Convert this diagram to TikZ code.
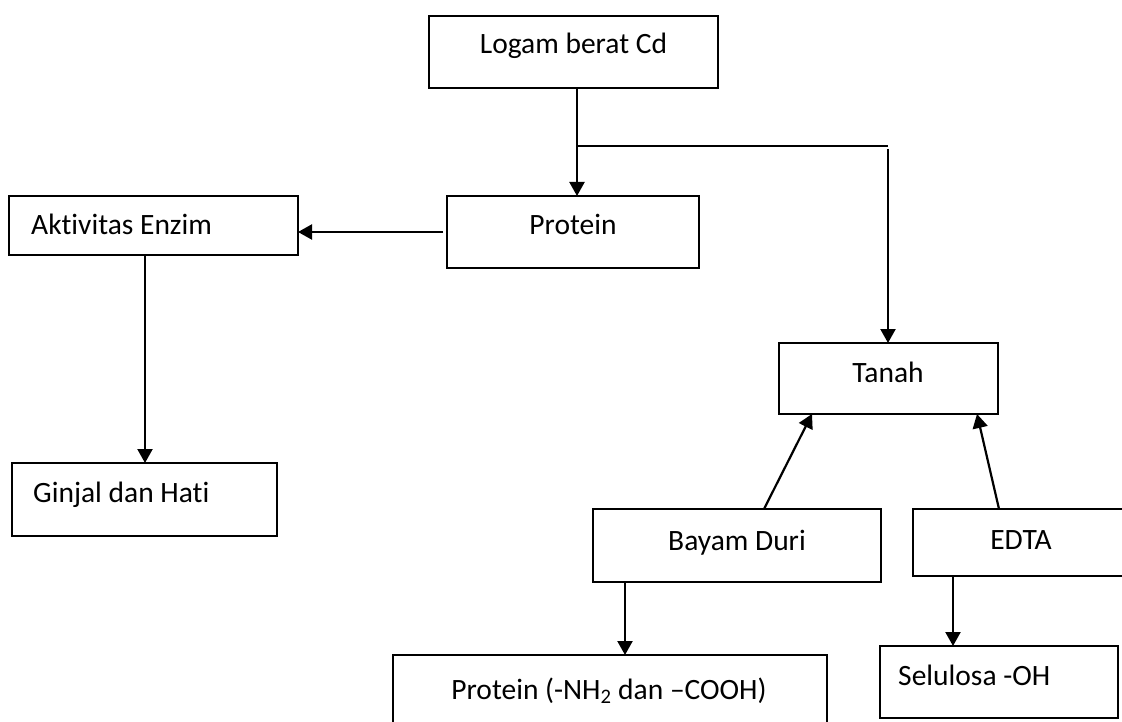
\documentclass[tikz,border=0pt]{standalone}
\usepackage{fontspec}
\setmainfont{Carlito}[Ligatures={NoCommon}]
\usetikzlibrary{arrows.meta}
\begin{document}
\begin{tikzpicture}[x=1pt,y=-1pt,
  box/.style={draw, line width=2pt, inner sep=0pt, outer sep=0pt, anchor=north west},
  lbl/.style={inner sep=0pt, anchor=base, font=\fontsize{29.5}{35}\selectfont},
  lblw/.style={lbl, anchor=base west},
  conn/.style={line width=2.2pt},
  arr/.style={conn, -{Triangle[length=14pt,width=15pt]}}]
\useasboundingbox (0,0) rectangle (1122,722);
\clip (0,0) rectangle (1122,722);
% boxes
\node[box, minimum width=289pt, minimum height=72pt] (logam) at (429,16) {};
\node[box, minimum width=252pt, minimum height=72pt] (prot) at (447,196) {};
\node[box, minimum width=289pt, minimum height=59pt] (aktiv) at (9,196) {};
\node[box, minimum width=265pt, minimum height=73pt] (ginjal) at (12,463) {};
\node[box, minimum width=219pt, minimum height=71pt] (tanah) at (779,343) {};
\node[box, minimum width=288pt, minimum height=73pt] (bayam) at (593,509) {};
\node[box, minimum width=230pt, minimum height=67pt] (edta) at (913,509) {};
\node[box, minimum width=238pt, minimum height=72pt] (selul) at (880,646) {};
\node[box, minimum width=434pt, minimum height=90pt] (prot2) at (393,655) {};
% texts
\node[lbl] (logamT) at (573.5,54) {Logam berat Cd};
\node[lbl] (protT) at (573,235) {Protein};
\node[lblw] (aktivT) at (31,235) {Aktivitas Enzim};
\node[lblw] (ginjalT) at (33,502) {Ginjal dan Hati};
\node[lbl] (tanahT) at (888,382) {Tanah};
\node[lbl] (bayamT) at (737,550) {Bayam Duri};
\node[lbl] (edtaT) at (1021,549) {EDTA};
\node[lblw] (selulT) at (898,685) {Selulosa -OH};
\node[lbl] (prot2T) at (609,699) {Protein (-NH\textsubscript{2} dan –COOH)};
% connectors
\coordinate (j1) at (577,146);
\coordinate (j2) at (888,146);
\draw[arr] (j1 |- logam.south) -- (j1 |- prot.north);
\draw[conn] (j1) -- (j2);
\draw[arr] ([yshift=-3pt]j2) -- (j2 |- tanah.north);
\draw[arr] ([xshift=-4pt]prot.west) -- (prot.west -| aktiv.east);
\coordinate (a1) at (145,0);
\draw[arr] (a1 |- aktiv.south) -- (a1 |- ginjal.north);
\draw[arr] ([xshift=27pt]bayam.north) -- ([xshift=-76.5pt]tanah.south);
\draw[arr] ([xshift=-29pt]edta.north) -- ([xshift=88.5pt]tanah.south);
\coordinate (b1) at (625,0);
\draw[arr] (b1 |- bayam.south) -- (b1 |- prot2.north);
\coordinate (e1) at (953,0);
\draw[arr] (e1 |- edta.south) -- (e1 |- selul.north);
\end{tikzpicture}
\end{document}
